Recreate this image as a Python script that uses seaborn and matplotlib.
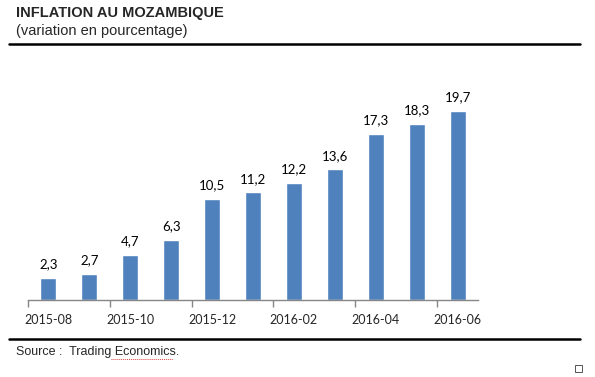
import numpy as np
import pandas as pd
import matplotlib
matplotlib.use("Agg")
import matplotlib.pyplot as plt
import seaborn as sns
from matplotlib.patches import Rectangle
from matplotlib.lines import Line2D

# ===================== 数据 =====================
months = ["2015-08", "2015-09", "2015-10", "2015-11", "2015-12",
          "2016-01", "2016-02", "2016-03", "2016-04", "2016-05", "2016-06"]
inflation = [2.3, 2.7, 4.7, 6.3, 10.5, 11.2, 12.2, 13.6, 17.3, 18.3, 19.7]
shown_labels = ["2015-08", "2015-10", "2015-12", "2016-02", "2016-04", "2016-06"]

df = pd.DataFrame({"mois": months, "val": inflation})

sns.set_theme(style="white")
plt.rcParams["font.family"] = ["Lato", "DejaVu Sans"]

fig = plt.figure(figsize=(5.95, 3.77), dpi=100)
ax = fig.add_axes([28/595, 1-300/377, 450/595, 240/377])

sns.barplot(data=df, x="mois", y="val", color="#4F81BD", width=0.39,
            saturation=1, ax=ax)

for i, v in enumerate(inflation):
    ax.text(i, v + 0.8, f"{v:.1f}".replace(".", ","), ha="center", va="bottom",
            fontsize=9.5, color="black")

ax.set_xlim(-0.5, 10.5)
ax.set_ylim(0, 25)
ax.set_yticks([])
ax.set_xlabel("")
ax.set_ylabel("")

# ticks aux limites de catégories, étiquettes une sur deux
ax.set_xticks(np.arange(-0.5, 10.5, 2))
ax.set_xticklabels([])
ax.tick_params(axis="x", which="major", length=5, width=1, color="#868686",
               direction="out", bottom=True)
ax.set_xticks(np.arange(0, 11, 2), minor=True)
ax.set_xticklabels(shown_labels, minor=True, fontsize=9)
ax.tick_params(axis="x", which="minor", length=0, pad=10)

for s in ["top", "right", "left"]:
    ax.spines[s].set_visible(False)
ax.spines["bottom"].set_color("#868686")
ax.spines["bottom"].set_linewidth(1)

# ===================== titre / source =====================
tfam = ["Liberation Sans", "DejaVu Sans"]
fig.text(16/595, 1-13/377, "INFLATION AU MOZAMBIQUE", fontsize=10.5,
         fontweight="bold", family=tfam, va="center", ha="left")
fig.text(16/595, 1-31/377, "(variation en pourcentage)", fontsize=10.5,
         family=tfam, va="center", ha="left")
fig.lines.append(Line2D([9/595, 580/595], [1-44/377, 1-44/377],
                        color="black", linewidth=1.8, transform=fig.transFigure))
fig.lines.append(Line2D([9/595, 580/595], [1-339/377, 1-339/377],
                        color="black", linewidth=1.8, transform=fig.transFigure))
fig.text(16/595, 1-352/377, "Source :  Trading Economics.", fontsize=9,
         family=tfam, va="center", ha="left")
# soulignement du correcteur orthographique
fig.lines.append(Line2D([111/595, 173/595], [1-359/377, 1-359/377],
                        color="#E04040", linewidth=0.7, linestyle=(0, (1, 1)),
                        transform=fig.transFigure))
fig.patches.append(Rectangle((575/595, 1-372/377), 7/595, 7/377, fill=False,
                             edgecolor="#555555", linewidth=0.7,
                             transform=fig.transFigure))

fig.savefig("out.png", dpi=100)
